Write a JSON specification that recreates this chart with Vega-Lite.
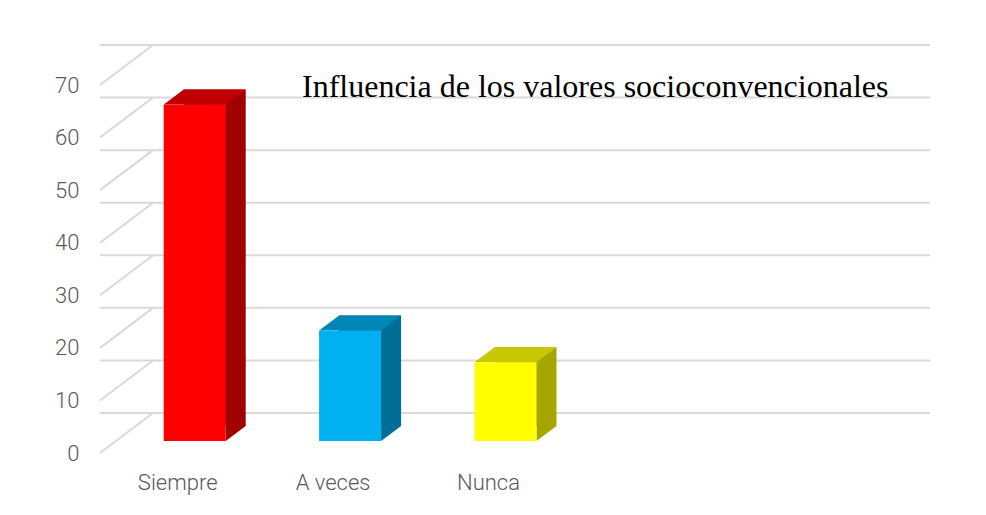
{
  "$schema": "https://vega.github.io/schema/vega-lite/v6.json",
  "autosize": "none",
  "padding": {"left": 100, "top": 85, "right": 109, "bottom": 62},
  "width": 777,
  "height": 368,
  "background": "white",
  "config": {"view": {"stroke": null}},
  "title": {
    "text": "Influencia de los valores socioconvencionales",
    "font": "Liberation Serif",
    "fontSize": 32,
    "fontWeight": "normal",
    "color": "#000000",
    "anchor": "start",
    "frame": "group",
    "dx": 202,
    "dy": 85,
    "offset": 0,
    "baseline": "alphabetic"
  },
  "datasets": {
    "bars": [
      {"cat": "Siempre", "v": 64},
      {"cat": "A veces", "v": 21},
      {"cat": "Nunca", "v": 15}
    ],
    "ticks": [
      {"t": 0}, {"t": 10}, {"t": 20}, {"t": 30}, {"t": 40}, {"t": 50}, {"t": 60}, {"t": 70}
    ]
  },
  "resolve": {"scale": {"color": "independent"}},
  "layer": [
    {
      "data": {"name": "bars"},
      "mark": {"type": "bar", "width": 62, "xOffset": 17, "yOffset": -12, "y2Offset": -12, "opacity": 0},
      "encoding": {
        "x": {"field": "cat", "type": "nominal", "title": null,
          "scale": {"domain": ["Siempre", "A veces", "Nunca", "_4", "_5"], "paddingInner": 0, "paddingOuter": 0},
          "axis": {"title": null, "domain": false, "ticks": false, "labelPadding": 19, "labelAngle": 0,
            "labelFont": "Roboto", "labelFontWeight": 300, "labelFontSize": 22, "labelColor": "#595959",
            "labelExpr": "indexof(datum.label, '_') === 0 ? '' : datum.label"}},
        "y": {"field": "v", "type": "quantitative", "title": null,
          "scale": {"domain": [0, 70], "nice": false, "zero": true},
          "axis": {"title": null, "domain": false, "ticks": false, "grid": false, "values": [0, 10, 20, 30, 40, 50, 60, 70],
            "labelPadding": 21, "labelFont": "Roboto", "labelFontWeight": 300, "labelFontSize": 22, "labelColor": "#595959"}}
      }
    },
    {
      "data": {"name": "ticks"},
      "mark": {"type": "rule", "color": "#D9D9D9", "strokeWidth": 2, "xOffset": 53, "x2Offset": 53, "yOffset": -40},
      "encoding": {
        "y": {"field": "t", "type": "quantitative", "title": null}
      }
    },
    {
      "data": {"name": "ticks"},
      "mark": {"type": "rule", "color": "#D9D9D9", "strokeWidth": 2, "y2Offset": -40},
      "encoding": {
        "x": {"value": 0},
        "x2": {"value": 53},
        "y": {"field": "t", "type": "quantitative", "title": null},
        "y2": {"field": "t"}
      }
    },
    {
      "data": {"name": "bars"},
      "mark": {"type": "bar", "width": 62, "xOffset": 37, "yOffset": -27, "y2Offset": -27},
      "encoding": {
        "x": {"field": "cat", "type": "nominal", "title": null},
        "y": {"field": "v", "type": "quantitative", "title": null},
        "color": {"field": "cat", "type": "nominal", "legend": null,
          "scale": {"domain": ["Siempre", "A veces", "Nunca"], "range": ["#A00000", "#006E96", "#A6A600"]}}
      }
    },
    {
      "data": {"name": "bars"},
      "mark": {"type": "point", "filled": true, "opacity": 1, "strokeWidth": 0, "size": 6400,
        "shape": "M-0.775,0L-0.275,-0.375L1.275,-0.375L0.775,0Z", "xOffset": 17, "yOffset": -12},
      "encoding": {
        "x": {"field": "cat", "type": "nominal", "title": null},
        "y": {"field": "v", "type": "quantitative", "title": null},
        "color": {"field": "cat", "type": "nominal", "legend": null,
          "scale": {"domain": ["Siempre", "A veces", "Nunca"], "range": ["#C00000", "#0086B4", "#C8C800"]}}
      }
    },
    {
      "data": {"name": "bars"},
      "mark": {"type": "point", "filled": true, "opacity": 1, "strokeWidth": 0, "size": 6400,
        "shape": "M0.775,0L0.775,-0.375L1.275,-0.375Z", "xOffset": 17, "yOffset": -12},
      "encoding": {
        "x": {"field": "cat", "type": "nominal", "title": null},
        "y": {"datum": 0, "type": "quantitative", "title": null},
        "color": {"field": "cat", "type": "nominal", "legend": null,
          "scale": {"domain": ["Siempre", "A veces", "Nunca"], "range": ["#A00000", "#006E96", "#A6A600"]}}
      }
    },
    {
      "data": {"name": "bars"},
      "mark": {"type": "bar", "width": 62, "xOffset": 17, "yOffset": -12, "y2Offset": -12},
      "encoding": {
        "x": {"field": "cat", "type": "nominal", "title": null},
        "y": {"field": "v", "type": "quantitative", "title": null},
        "color": {"field": "cat", "type": "nominal", "legend": null,
          "scale": {"domain": ["Siempre", "A veces", "Nunca"], "range": ["#FF0000", "#00B0F0", "#FFFF00"]}}
      }
    }
  ]
}
